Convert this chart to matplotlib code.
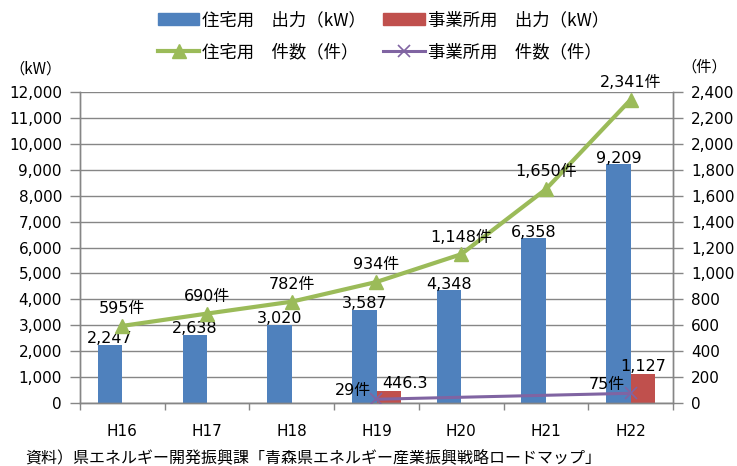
import matplotlib.pyplot as plt
import numpy as np
from matplotlib.patches import Patch
from matplotlib.lines import Line2D

plt.switch_backend('Agg')

# data
years = ['H16', 'H17', 'H18', 'H19', 'H20', 'H21', 'H22']
res_kw = [2247, 2638, 3020, 3587, 4348, 6358, 9209]
biz_kw = [np.nan, np.nan, np.nan, 446.3, np.nan, np.nan, 1127]
res_cnt = [595, 690, 782, 934, 1148, 1650, 2341]
biz_years = ['H19', 'H22']
biz_cnt = [29, 75]

BLUE = '#4F81BD'
RED = '#C0504D'
GREEN = '#9BBB59'
PURPLE = '#8064A2'
GRAY = '#868686'

NUM_FONT = ['DejaVu Sans', 'Noto Sans CJK JP']
JP_FONT = ['Noto Sans CJK JP', 'DejaVu Sans']
plt.rcParams['font.family'] = NUM_FONT

fig = plt.figure(figsize=(7.37, 4.66), dpi=100)
ax = fig.add_axes([80 / 737, 1 - 403 / 466, 593 / 737, 311 / 466])
ax2 = ax.twinx()

x = np.arange(len(years))
w = 0.29

# bars (output kW)
ax.bar(x - w / 2, res_kw, width=w, color=BLUE, zorder=2)
ax.bar(x + w / 2, biz_kw, width=w, color=RED, zorder=2)


def fmt(v):
    return f'{v:,.1f}' if v != int(v) else f'{v:,.0f}'


for xi, v in zip(x, res_kw):
    ax.annotate(fmt(v), (xi - w / 2, v), xytext=(0, -1), textcoords='offset points',
                ha='center', va='bottom', fontsize=11.5)
for xi, v in zip(x, biz_kw):
    if not np.isnan(v):
        # the small H19 label sits a little to the right in the original
        dx = 12 if v < 1000 else 0
        ax.annotate(fmt(v), (xi + w / 2, v), xytext=(dx, 0), textcoords='offset points',
                    ha='center', va='bottom', fontsize=11.5)

# lines (counts)
ax2.plot(x, res_cnt, color=GREEN, lw=3, marker='^', markersize=10, zorder=3)
bx = [years.index(y) for y in biz_years]
ax2.plot(bx, biz_cnt, color=PURPLE, lw=2.2, marker='x', markersize=9, mew=1.2, zorder=3)

for xi, v in zip(x, res_cnt):
    ax2.annotate(f'{v:,}件', (xi, v), xytext=(0, 7), textcoords='offset points',
                 ha='center', va='bottom', fontsize=11.5)
for xi, v in zip(bx, biz_cnt):
    ax2.annotate(f'{v:,}件', (xi, v), xytext=(-4, 1), textcoords='offset points',
                 ha='right', va='bottom', fontsize=11.5)

# axes
ax.set_xlim(-0.5, len(years) - 0.5)
ax.set_ylim(0, 12000)
ax.set_yticks(np.arange(0, 12001, 1000))
ax.set_yticklabels([f'{v:,}' for v in range(0, 12001, 1000)])
ax2.set_ylim(0, 2400)
ax2.set_yticks(np.arange(0, 2401, 200))
ax2.set_yticklabels([f'{v:,}' for v in range(0, 2401, 200)])

ax.set_xticks(x)
ax.set_xticklabels(years)
ax.set_xticks(np.arange(-0.5, len(years)), minor=True)
ax.tick_params(axis='x', which='major', length=0, pad=15, labelsize=11)
ax.tick_params(axis='x', which='minor', length=5, color=GRAY, width=1)
ax.tick_params(axis='y', length=7, color=GRAY, width=1, pad=6, labelsize=11)
ax2.tick_params(axis='y', length=7, color=GRAY, width=1, pad=6, labelsize=11)

ax.yaxis.grid(True, color=GRAY, lw=1)
ax.set_axisbelow(True)
for a in (ax, ax2):
    a.spines['top'].set_visible(False)
    for s in ('left', 'right', 'bottom'):
        a.spines[s].set_color(GRAY)
        a.spines[s].set_linewidth(1)

# unit labels
fig.text(36 / 737, 1 - 69 / 466, '（kW）', ha='center', va='center', fontsize=11, family=JP_FONT)
fig.text(704 / 737, 1 - 67 / 466, '（件）', ha='center', va='center', fontsize=11, family=JP_FONT)

# legend
handles = [
    Patch(color=BLUE),
    Line2D([], [], color=GREEN, lw=3, marker='^', markersize=10),
    Patch(color=RED),
    Line2D([], [], color=PURPLE, lw=2.2, marker='x', markersize=9, mew=1.2),
]
labels = ['住宅用　出力（kW）', '住宅用　件数（件）', '事業所用　出力（kW）', '事業所用　件数（件）']
fig.legend(handles, labels, loc='upper center', bbox_to_anchor=(0.52, 1.01), ncol=2,
           frameon=False, handlelength=2.4, handletextpad=0.15, columnspacing=1.0,
           labelspacing=0.8, prop={'family': JP_FONT, 'size': 12.5})

# source note
fig.text(25 / 737, 1 - 458 / 466, '資料）県エネルギー開発振興課「青森県エネルギー産業振興戦略ロードマップ」',
         ha='left', va='center', fontsize=11.5, family=JP_FONT)

fig.savefig('out.png', dpi=100)
